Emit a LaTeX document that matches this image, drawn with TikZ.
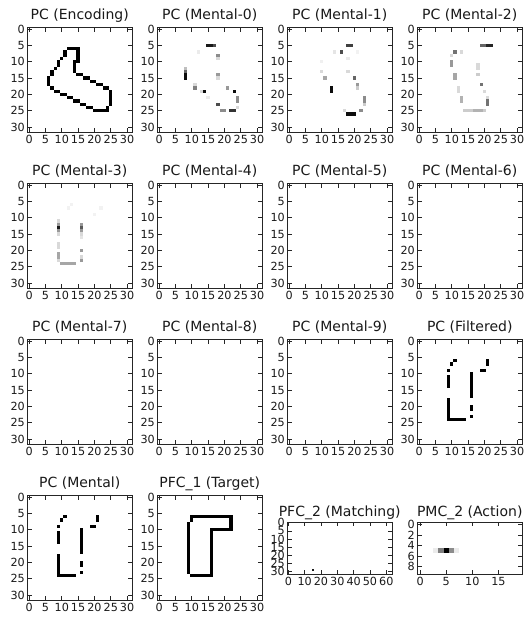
\documentclass[tikz,border=0pt]{standalone}
\usepackage{fontspec}
\setmainfont{DejaVu Sans}
\newcommand\pc[3]{\fill[#1] (#2,#3) rectangle ++(1,1);}
\newcommand\pxseg[5]{%
  \pgfmathtruncatemacro\pxn{max(abs(#4-#2),abs(#5-#3))}%
  \pgfmathsetmacro\pxd{max(\pxn,1)}%
  \foreach \pxt in {0,...,\pxn}{%
    \pgfmathtruncatemacro\pxc{round(#2+\pxt*(#4-#2)/\pxd)}%
    \pgfmathtruncatemacro\pxr{round(#3+\pxt*(#5-#3)/\pxd)}%
    \fill[#1] (\pxc,\pxr) rectangle ++(1,1);}}
\newcommand\cells[3]{\begin{scope}[shift={(#1,#2)},x=3.2656pt,y=-3.2656pt]#3\end{scope}}
\newcommand\sqpanel[4]{%
  \begin{scope}[shift={(#2,#3)}]
    \draw[frame] (0,0) rectangle (104.5,104.5);
    \foreach \v in {0,5,...,30}{%
      \pgfmathsetmacro\tkp{(\v+0.5)*3.2656}%
      \draw[tickmark] (\tkp,0) -- ++(0,4) (\tkp,104.5) -- ++(0,-4)
                      (0,\tkp) -- ++(4,0) (104.5,\tkp) -- ++(-4,0);
      \node[ticklbl,anchor=north] (#1-x\v) at (\tkp,107.5) {\v};
      \node[ticklbl,anchor=east] (#1-y\v) at (-2.5,\tkp) {\v};
    }
    \node[ttl] (#1-t) at (52.25,-8) {#4};
  \end{scope}}
\begin{document}
\begin{tikzpicture}[x=1pt,y=-1pt,
  frame/.style={draw=black!85,line width=0.9pt},
  tickmark/.style={draw=black!85,line width=0.7pt},
  ticklbl/.style={inner sep=0pt,font=\fontsize{11.2}{12}\selectfont,text=black!90},
  ttl/.style={inner sep=0pt,anchor=base,font=\fontsize{14}{16}\selectfont,text=black!90}]
\useasboundingbox (0,0) rectangle (526,622);
\fill[white] (0,0) rectangle (526,622);

% ---------- PC (Encoding)
\cells{27.5}{27.5}{
  \pxseg{black}{12}{6}{15}{6}
  \pxseg{black}{15}{6}{15}{10}
  \pxseg{black}{14}{10}{14}{13}
  \pxseg{black}{14}{13}{25}{19}
  \pxseg{black}{25}{19}{25}{23}
  \pxseg{black}{24}{24}{24}{25}
  \pxseg{black}{20}{25}{24}{25}
  \pxseg{black}{20}{25}{7}{18}
  \pxseg{black}{6}{17}{6}{15}
  \pxseg{black}{6}{15}{12}{6}
}
\sqpanel{enc}{27.5}{27.5}{PC (Encoding)}

% ---------- PC (Mental-0)
\cells{157.5}{27.5}{
  \pc{black!90}{15}{5}\pc{black!90}{16}{5}\pc{black!70}{17}{5}
  \pc{black!8}{12}{7}
  \pc{black!45}{18}{8}\pc{black!15}{18}{9}
  \pc{black!25}{8}{12}\pc{black!60}{8}{13}\pc{black!95}{8}{14}\pc{black!95}{8}{15}
  \pc{black!15}{11}{17}\pc{black!50}{11}{18}
  \pc{black!15}{13}{19}\pc{black!95}{14}{19}
  \pc{black!8}{15}{21}
  \pc{black!40}{18}{14}\pc{black!15}{18}{15}
  \pc{black!70}{18}{23}
  \pc{black!40}{21}{18}
  \pc{black!95}{23}{19}
  \pc{black!45}{24}{21}\pc{black!45}{24}{22}\pc{black!15}{24}{24}
  \pc{black!45}{19}{25}\pc{black!45}{20}{25}\pc{black!80}{22}{25}\pc{black!80}{23}{25}
}
\sqpanel{m0}{157.5}{27.5}{PC (Mental-0)}

% ---------- PC (Mental-1)
\cells{287.5}{27.5}{
  \pc{black!75}{18}{5}\pc{black!75}{19}{5}
  \pc{black!70}{16}{7}\pc{black!10}{14}{7}\pc{black!5}{21}{7}
  \pc{black!6}{10}{10}\pc{black!8}{18}{9}
  \pc{black!15}{10}{13}\pc{black!35}{11}{15}
  \pc{black!15}{18}{13}\pc{black!60}{20}{15}
  \pc{black!40}{21}{17}\pc{black!20}{21}{18}
  \pc{black!95}{13}{18}\pc{black!95}{13}{19}
  \pc{black!45}{23}{21}\pc{black!45}{23}{22}\pc{black!20}{23}{23}
  \pc{black!15}{17}{25}\pc{black!45}{22}{25}
  \pc{black!95}{18}{26}\pc{black!95}{19}{26}\pc{black!95}{20}{26}
}
\sqpanel{m1}{287.5}{27.5}{PC (Mental-1)}

% ---------- PC (Mental-2)
\cells{417.5}{27.5}{
  \pc{black!60}{19}{5}\pc{black!60}{20}{5}\pc{black!85}{21}{5}\pc{black!85}{22}{5}
  \pc{black!55}{11}{7}\pc{black!15}{13}{7}\pc{black!15}{10}{8}
  \pc{black!40}{10}{10}\pc{black!40}{10}{11}
  \pc{black!35}{11}{14}\pc{black!35}{11}{15}
  \pc{black!15}{12}{18}\pc{black!15}{12}{19}
  \pc{black!30}{13}{21}\pc{black!30}{13}{22}
  \pc{black!20}{14}{25}\pc{black!20}{15}{25}\pc{black!20}{16}{25}
  \pc{black!30}{17}{25}\pc{black!30}{18}{25}\pc{black!30}{19}{25}\pc{black!20}{20}{25}
  \pc{black!15}{18}{11}\pc{black!15}{18}{12}\pc{black!20}{18}{14}
  \pc{black!55}{19}{17}\pc{black!15}{20}{19}\pc{black!15}{21}{21}
  \pc{black!55}{21}{22}\pc{black!55}{21}{23}
}
\sqpanel{m2}{417.5}{27.5}{PC (Mental-2)}

% ---------- PC (Mental-3)
\cells{27.5}{183.5}{
  \pc{black!5}{13}{6}\pc{black!5}{12}{7}\pc{black!5}{22}{7}\pc{black!5}{20}{9}
  \pc{black!15}{9}{11}\pc{black!40}{9}{12}\pc{black!90}{9}{13}\pc{black!40}{9}{14}\pc{black!15}{9}{15}
  \pc{black!15}{9}{18}\pc{black!15}{9}{19}\pc{black!35}{9}{21}\pc{black!35}{9}{22}\pc{black!15}{9}{23}
  \pc{black!40}{16}{12}\pc{black!65}{16}{13}\pc{black!40}{16}{14}\pc{black!15}{16}{15}\pc{black!10}{16}{16}
  \pc{black!40}{16}{20}\pc{black!15}{16}{22}\pc{black!40}{16}{23}
  \pxseg{black!35}{10}{24}{14}{24}
}
\sqpanel{m3}{27.5}{183.5}{PC (Mental-3)}

\sqpanel{m4}{157.5}{183.5}{PC (Mental-4)}
\sqpanel{m5}{287.5}{183.5}{PC (Mental-5)}
\sqpanel{m6}{417.5}{183.5}{PC (Mental-6)}
\sqpanel{m7}{27.5}{339.5}{PC (Mental-7)}
\sqpanel{m8}{157.5}{339.5}{PC (Mental-8)}
\sqpanel{m9}{287.5}{339.5}{PC (Mental-9)}

% ---------- PC (Filtered) and PC (Mental)
\foreach \px/\py in {417.5/339.5, 27.5/495.5}{
\cells{\px}{\py}{
  \pc{black}{11}{6}\pc{black}{10}{7}\pc{black}{9}{9}
  \pxseg{black}{9}{11}{9}{14}
  \pxseg{black}{9}{18}{9}{24}
  \pxseg{black}{9}{24}{14}{24}
  \pxseg{black}{16}{10}{16}{17}
  \pxseg{black}{16}{20}{16}{21}
  \pc{black}{16}{23}
  \pc{black}{19}{9}\pc{black}{20}{9}
  \pc{black}{21}{6}\pc{black}{21}{7}
}}
\sqpanel{filt}{417.5}{339.5}{PC (Filtered)}
\sqpanel{ment}{27.5}{495.5}{PC (Mental)}

% ---------- PFC_1 (Target)
\cells{157.5}{495.5}{
  \pxseg{black}{10}{6}{22}{6}
  \pxseg{black}{22}{6}{22}{10}
  \pxseg{black}{16}{10}{22}{10}
  \pxseg{black}{16}{10}{16}{24}
  \pxseg{black}{10}{24}{16}{24}
  \pxseg{black}{9}{8}{9}{23}
  \pc{black}{10}{7}
}
\sqpanel{pfc1}{157.5}{495.5}{PFC\_1 (Target)}

% ---------- PFC_2 (Matching)
\begin{scope}[shift={(287.5,522)}]
  \begin{scope}[x=1.6328pt,y=-1.6328pt]
    \pc{black!90}{15}{29}
  \end{scope}
  \draw[frame] (0,0) rectangle (104.5,52.25);
  \foreach \v in {0,10,...,60}{%
    \pgfmathsetmacro\tkp{(\v+0.5)*1.6328}%
    \draw[tickmark] (\tkp,0) -- ++(0,4) (\tkp,52.25) -- ++(0,-4);
    \node[ticklbl,anchor=north] (pfc2-x\v) at (\tkp,55.25) {\v};
  }
  \foreach \v in {0,5,...,30}{%
    \pgfmathsetmacro\tkp{(\v+0.5)*1.6328}%
    \draw[tickmark] (0,\tkp) -- ++(4,0) (104.5,\tkp) -- ++(-4,0);
    \node[ticklbl,anchor=east] (pfc2-y\v) at (-2.5,\tkp) {\v};
  }
  \node[ttl] (pfc2-t) at (52.25,-6) {PFC\_2 (Matching)};
\end{scope}

% ---------- PMC_2 (Action)
\begin{scope}[shift={(417.5,522)}]
  \begin{scope}[x=5.225pt,y=-5.225pt]
    \pc{black!8}{3}{5}\pc{black!50}{4}{5}\pc{black}{5}{5}\pc{black!45}{6}{5}\pc{black!8}{7}{5}
  \end{scope}
  \draw[frame] (0,0) rectangle (104.5,52.25);
  \foreach \v in {0,5,10,15}{%
    \pgfmathsetmacro\tkp{(\v+0.5)*5.225}%
    \draw[tickmark] (\tkp,0) -- ++(0,4) (\tkp,52.25) -- ++(0,-4);
    \node[ticklbl,anchor=north] (pmc2-x\v) at (\tkp,55.25) {\v};
  }
  \foreach \v in {0,2,...,8}{%
    \pgfmathsetmacro\tkp{(\v+0.5)*5.225}%
    \draw[tickmark] (0,\tkp) -- ++(4,0) (104.5,\tkp) -- ++(-4,0);
    \node[ticklbl,anchor=east] (pmc2-y\v) at (-2.5,\tkp) {\v};
  }
  \node[ttl] (pmc2-t) at (52.25,-6) {PMC\_2 (Action)};
\end{scope}
\end{tikzpicture}
\end{document}
